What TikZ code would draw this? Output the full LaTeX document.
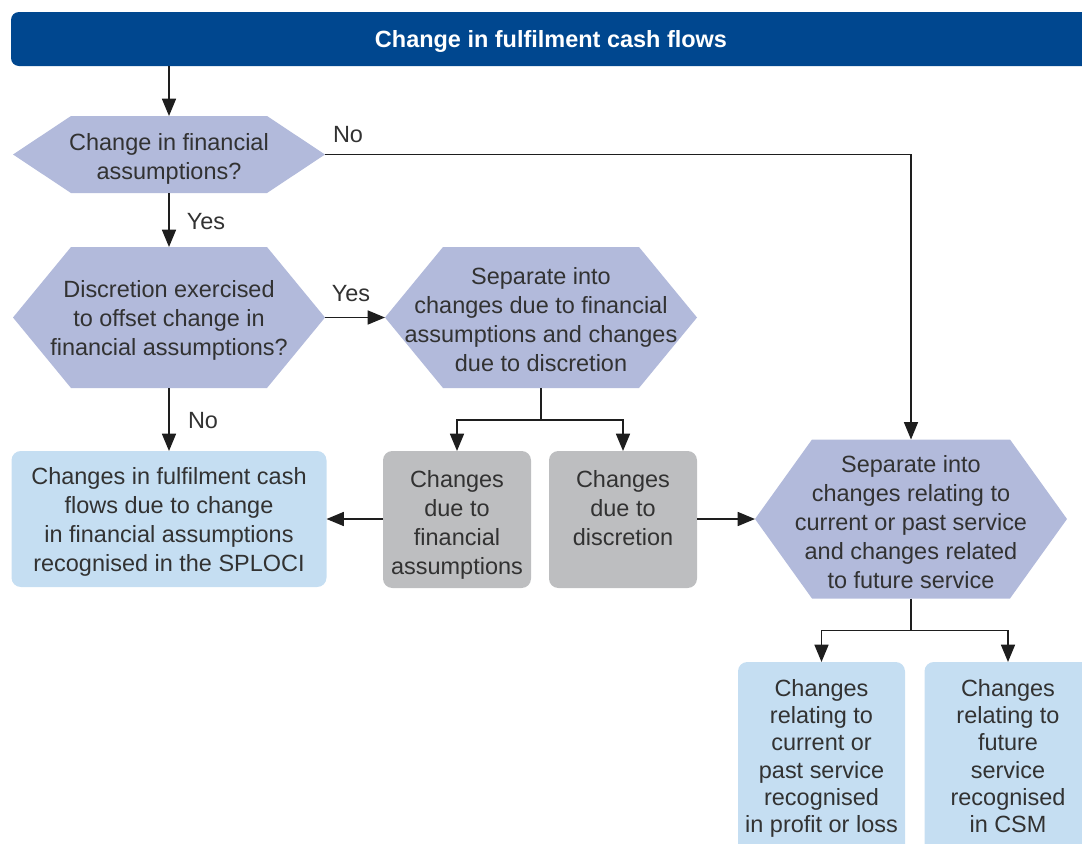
\documentclass[tikz,border=0pt]{standalone}
\usepackage{fontspec}
\setmainfont{Liberation Sans}
\usetikzlibrary{arrows.meta,calc,backgrounds}

\definecolor{bannerblue}{RGB}{0,71,143}
\definecolor{hexfill}{RGB}{178,186,219}
\definecolor{paleblue}{RGB}{197,222,242}
\definecolor{boxgrey}{RGB}{189,190,192}
\definecolor{ink}{RGB}{50,50,50}
\definecolor{linecol}{RGB}{30,30,30}

% fill a flat hexagon around a rectangular node; #2 = depth of the pointed ends
\newcommand\hexbehind[2]{%
  \fill[hexfill] (#1.west) -- ($(#1.north west)+(#2,0)$) -- ($(#1.north east)+(-#2,0)$)
    -- (#1.east) -- ($(#1.south east)+(-#2,0)$) -- ($(#1.south west)+(#2,0)$) -- cycle;}

\begin{document}
\begin{tikzpicture}[x=0.75pt,y=-0.75pt,
  every node/.style={font=\fontsize{17.6}{21.75}\selectfont, text=ink, outer sep=0pt},
  hexnode/.style={minimum width=234pt, inner sep=0pt},
  roundbox/.style={rounded corners=7pt, inner sep=0pt},
  txt/.style={inner sep=0pt, align=center},
  tallbox/.style={rounded corners=7pt, fill=paleblue, minimum width=125.25pt,
    minimum height=165pt, anchor=north, inner sep=0pt},
  boxtext/.style={anchor=north, inner sep=0pt, align=center,
    font=\fontsize{17.6}{20.5}\selectfont},
  lbl/.style={anchor=base, inner sep=0pt},
  arr/.style={draw=linecol, line width=1.2pt, -{Triangle[length=13pt,width=10.5pt]}},
  ln/.style={draw=linecol, line width=1pt},
]
\useasboundingbox (0,0) rectangle (1082,843);

% title banner
\node[fill=bannerblue, rounded corners=6pt, minimum width=810pt, minimum height=40.5pt,
      inner sep=0pt] (banner) at (551,39) {};
\node[txt, text=white, font=\fontsize{17.6}{21}\selectfont\bfseries]
  (title) at (551,41) {Change in fulfilment cash flows};

% decision and split steps
\node[hexnode, minimum height=57.75pt] (q1) at (169,154.5) {};
\node[hexnode, minimum height=105.75pt] (q2) at (169,317.5) {};
\node[hexnode, minimum height=105.75pt] (s1) at (541,317.5) {};
\node[hexnode, minimum height=119.25pt] (s2) at (911,519) {};

\begin{scope}[on background layer]
  \hexbehind{q1}{58}
  \hexbehind{q2}{58}
  \hexbehind{s1}{58}
  \hexbehind{s2}{57}
\end{scope}

\node[txt] (q1t) at ($(q1.center)+(0,4)$) {Change in financial\\assumptions?};
\node[txt] (q2t) at ($(q2.center)+(0,3)$) {Discretion exercised\\to offset change in\\financial assumptions?};
\node[txt] (s1t) at ($(s1.center)+(0,2)$) {Separate into\\changes due to financial\\assumptions and changes\\due to discretion};
\node[txt] (s2t) at ($(s2.center)+(0,3)$) {Separate into\\changes relating to\\current or past service\\and changes related\\to future service};

% outcome boxes
\node[roundbox, fill=paleblue, minimum width=236.25pt, minimum height=102pt] (oci) at (169,519) {};
\node[txt] (ocit) at ($(oci.center)+(0,3)$)
  {Changes in fulfilment cash\\flows due to change\\in financial assumptions\\recognised in the SPLOCI};
\node[roundbox, fill=boxgrey, minimum width=111pt, minimum height=102.75pt] (fin) at (457,519.5) {};
\node[txt, anchor=north] (fint) at (457,470) {Changes\\due to\\financial\\assumptions};
\node[roundbox, fill=boxgrey, minimum width=111pt, minimum height=102.75pt] (disc) at (623,519.5) {};
\node[txt, anchor=north] (disct) at (623,470) {Changes\\due to\\discretion};

\node[tallbox] (pl) at (821.5,662) {};
\node[boxtext] (pltext) at (821.5,679)
  {Changes\\relating to\\current or\\past service\\recognised\\in profit or loss};
\node[tallbox] (csm) at (1008,662) {};
\node[boxtext] (csmtext) at (1008,679)
  {Changes\\relating to\\future\\service\\recognised\\in CSM};

% connectors
\draw[arr] (banner.south -| q1.north) -- (q1.north);
\draw[arr, line width=1pt] (q1.east) -| (s2.north);
\draw[arr] (q1.south) -- (q2.north);
\draw[arr] (q2.east) -- (s1.west);
\draw[arr] (q2.south) -- (oci.north);

\coordinate (split1) at ($(s1.south)+(0,32)$);
\draw[ln] (s1.south) -- (split1);
\draw[arr] (split1) -| (fin.north);
\draw[arr] (split1) -| (disc.north);

\draw[arr] (fin.west |- oci.east) -- (oci.east);
\draw[arr] (disc.east |- s2.west) -- (s2.west);

\coordinate (split2) at ($(s2.south)+(0,32)$);
\draw[ln] (s2.south) -- (split2);
\draw[arr] (split2) -| (pl.north);
\draw[arr] (split2) -| (csm.north);

% branch labels
\node[lbl] (noA) at (348,142) {No};
\node[lbl] (yesA) at (206,229) {Yes};
\node[lbl] (yesB) at (351,301) {Yes};
\node[lbl] (noB) at (203,428) {No};
\end{tikzpicture}
\end{document}
